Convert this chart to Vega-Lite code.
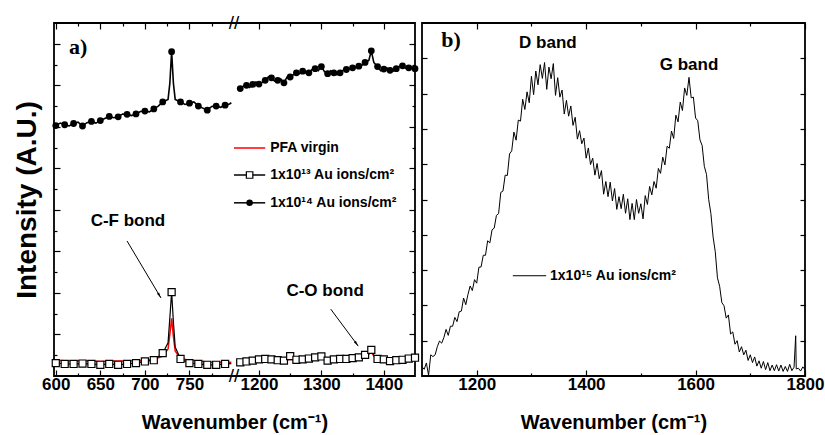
{
"$schema": "https://vega.github.io/schema/vega-lite/v6.json",
"padding": {"left": 12, "top": 13, "right": 4, "bottom": 0},
"spacing": -6,
"config": {
  "view": {"stroke": "#000", "strokeWidth": 1.8},
  "axis": {"domain": false, "grid": false, "tickColor": "#000", "tickWidth": 1.2, "labelColor": "#000", "labelFont": "Liberation Sans", "labelFontWeight": "bold", "labelFontSize": 17, "titleColor": "#000", "titleFont": "Liberation Sans", "titleFontWeight": "bold", "titleFontSize": 20, "labelOverlap": false, "labelFlush": false, "format": "d"}
},
"datasets": {
  "virgin": [
    {"g":"L","x":600,"y":0.38},{"g":"L","x":610,"y":0.37},{"g":"L","x":620,"y":0.36},{"g":"L","x":630,"y":0.37},{"g":"L","x":640,"y":0.36},{"g":"L","x":650,"y":0.35},{"g":"L","x":660,"y":0.36},{"g":"L","x":670,"y":0.36},{"g":"L","x":680,"y":0.36},{"g":"L","x":690,"y":0.37},{"g":"L","x":700,"y":0.38},{"g":"L","x":710,"y":0.40},{"g":"L","x":720,"y":0.48},{"g":"L","x":726,"y":0.65},{"g":"L","x":728,"y":1.0},{"g":"L","x":730,"y":1.39},{"g":"L","x":732,"y":0.95},{"g":"L","x":734,"y":0.6},{"g":"L","x":740,"y":0.42},{"g":"L","x":750,"y":0.38},{"g":"L","x":760,"y":0.36},{"g":"L","x":770,"y":0.34},{"g":"L","x":780,"y":0.33},{"g":"L","x":790,"y":0.33},{"g":"L","x":797,"y":0.33},
    {"g":"R","x":1170,"y":0.32},{"g":"R","x":1180,"y":0.33},{"g":"R","x":1190,"y":0.35},{"g":"R","x":1200,"y":0.37},{"g":"R","x":1210,"y":0.38},{"g":"R","x":1220,"y":0.38},{"g":"R","x":1230,"y":0.37},{"g":"R","x":1240,"y":0.37},{"g":"R","x":1250,"y":0.40},{"g":"R","x":1260,"y":0.39},{"g":"R","x":1270,"y":0.40},{"g":"R","x":1280,"y":0.41},{"g":"R","x":1290,"y":0.43},{"g":"R","x":1300,"y":0.44},{"g":"R","x":1310,"y":0.40},{"g":"R","x":1320,"y":0.40},{"g":"R","x":1330,"y":0.40},{"g":"R","x":1340,"y":0.41},{"g":"R","x":1350,"y":0.42},{"g":"R","x":1360,"y":0.44},{"g":"R","x":1370,"y":0.48},{"g":"R","x":1376,"y":0.52},{"g":"R","x":1380,"y":0.58},{"g":"R","x":1384,"y":0.48},{"g":"R","x":1390,"y":0.40},{"g":"R","x":1400,"y":0.38},{"g":"R","x":1410,"y":0.36},{"g":"R","x":1420,"y":0.37},{"g":"R","x":1430,"y":0.38},{"g":"R","x":1440,"y":0.40},{"g":"R","x":1450,"y":0.42}
  ],
  "e13": [
    {"g":"L","x":600,"y":0.31},{"g":"L","x":610,"y":0.29},{"g":"L","x":620,"y":0.29},{"g":"L","x":630,"y":0.30},{"g":"L","x":640,"y":0.29},{"g":"L","x":650,"y":0.27},{"g":"L","x":660,"y":0.29},{"g":"L","x":670,"y":0.27},{"g":"L","x":680,"y":0.29},{"g":"L","x":690,"y":0.31},{"g":"L","x":700,"y":0.35},{"g":"L","x":710,"y":0.38},{"g":"L","x":720,"y":0.55},{"g":"L","x":726,"y":0.8},{"g":"L","x":728,"y":1.4},{"g":"L","x":730,"y":2.02},{"g":"L","x":732,"y":1.3},{"g":"L","x":734,"y":0.7},{"g":"L","x":740,"y":0.41},{"g":"L","x":750,"y":0.31},{"g":"L","x":760,"y":0.29},{"g":"L","x":770,"y":0.27},{"g":"L","x":780,"y":0.27},{"g":"L","x":790,"y":0.29},{"g":"L","x":797,"y":0.30},
    {"g":"R","x":1170,"y":0.33},{"g":"R","x":1180,"y":0.35},{"g":"R","x":1190,"y":0.37},{"g":"R","x":1200,"y":0.40},{"g":"R","x":1210,"y":0.41},{"g":"R","x":1220,"y":0.40},{"g":"R","x":1230,"y":0.38},{"g":"R","x":1240,"y":0.37},{"g":"R","x":1250,"y":0.48},{"g":"R","x":1260,"y":0.39},{"g":"R","x":1270,"y":0.40},{"g":"R","x":1280,"y":0.42},{"g":"R","x":1290,"y":0.45},{"g":"R","x":1300,"y":0.47},{"g":"R","x":1310,"y":0.37},{"g":"R","x":1320,"y":0.40},{"g":"R","x":1330,"y":0.41},{"g":"R","x":1340,"y":0.41},{"g":"R","x":1350,"y":0.43},{"g":"R","x":1360,"y":0.45},{"g":"R","x":1370,"y":0.51},{"g":"R","x":1376,"y":0.55},{"g":"R","x":1380,"y":0.63},{"g":"R","x":1384,"y":0.50},{"g":"R","x":1390,"y":0.41},{"g":"R","x":1400,"y":0.40},{"g":"R","x":1410,"y":0.36},{"g":"R","x":1420,"y":0.38},{"g":"R","x":1430,"y":0.39},{"g":"R","x":1440,"y":0.42},{"g":"R","x":1450,"y":0.44}
  ],
  "e14": [
    {"g":"L","x":600,"y":6.03},{"g":"L","x":605,"y":6.09},{"g":"L","x":610,"y":6.05},{"g":"L","x":615,"y":6.02},{"g":"L","x":620,"y":6.08},{"g":"L","x":625,"y":6.11},{"g":"L","x":630,"y":6.02},{"g":"L","x":635,"y":6.10},{"g":"L","x":640,"y":6.13},{"g":"L","x":645,"y":6.09},{"g":"L","x":650,"y":6.15},{"g":"L","x":655,"y":6.20},{"g":"L","x":660,"y":6.25},{"g":"L","x":665,"y":6.22},{"g":"L","x":670,"y":6.24},{"g":"L","x":675,"y":6.31},{"g":"L","x":680,"y":6.30},{"g":"L","x":685,"y":6.27},{"g":"L","x":690,"y":6.31},{"g":"L","x":695,"y":6.37},{"g":"L","x":700,"y":6.38},{"g":"L","x":705,"y":6.36},{"g":"L","x":710,"y":6.43},{"g":"L","x":715,"y":6.50},{"g":"L","x":720,"y":6.60},{"g":"L","x":726,"y":6.66},{"g":"L","x":728,"y":7.05},{"g":"L","x":730,"y":7.81},{"g":"L","x":732,"y":7.05},{"g":"L","x":734,"y":6.66},{"g":"L","x":740,"y":6.60},{"g":"L","x":745,"y":6.54},{"g":"L","x":750,"y":6.57},{"g":"L","x":755,"y":6.60},{"g":"L","x":760,"y":6.50},{"g":"L","x":765,"y":6.45},{"g":"L","x":770,"y":6.40},{"g":"L","x":775,"y":6.49},{"g":"L","x":780,"y":6.50},{"g":"L","x":785,"y":6.47},{"g":"L","x":790,"y":6.52},{"g":"L","x":795,"y":6.55},{"g":"L","x":797,"y":6.58},
    {"g":"R","x":1170,"y":6.92},{"g":"R","x":1175,"y":6.98},{"g":"R","x":1180,"y":7.00},{"g":"R","x":1185,"y":6.95},{"g":"R","x":1190,"y":7.02},{"g":"R","x":1195,"y":7.08},{"g":"R","x":1200,"y":7.03},{"g":"R","x":1205,"y":7.07},{"g":"R","x":1210,"y":7.12},{"g":"R","x":1215,"y":7.20},{"g":"R","x":1220,"y":7.18},{"g":"R","x":1225,"y":7.10},{"g":"R","x":1230,"y":7.12},{"g":"R","x":1235,"y":7.15},{"g":"R","x":1240,"y":7.06},{"g":"R","x":1245,"y":7.20},{"g":"R","x":1250,"y":7.20},{"g":"R","x":1255,"y":7.25},{"g":"R","x":1260,"y":7.30},{"g":"R","x":1265,"y":7.28},{"g":"R","x":1270,"y":7.34},{"g":"R","x":1275,"y":7.30},{"g":"R","x":1280,"y":7.30},{"g":"R","x":1285,"y":7.38},{"g":"R","x":1290,"y":7.40},{"g":"R","x":1295,"y":7.35},{"g":"R","x":1300,"y":7.45},{"g":"R","x":1305,"y":7.33},{"g":"R","x":1310,"y":7.28},{"g":"R","x":1315,"y":7.35},{"g":"R","x":1320,"y":7.30},{"g":"R","x":1325,"y":7.25},{"g":"R","x":1330,"y":7.30},{"g":"R","x":1335,"y":7.36},{"g":"R","x":1340,"y":7.38},{"g":"R","x":1345,"y":7.40},{"g":"R","x":1350,"y":7.42},{"g":"R","x":1355,"y":7.44},{"g":"R","x":1360,"y":7.46},{"g":"R","x":1365,"y":7.48},{"g":"R","x":1370,"y":7.55},{"g":"R","x":1376,"y":7.60},{"g":"R","x":1380,"y":7.83},{"g":"R","x":1384,"y":7.55},{"g":"R","x":1390,"y":7.45},{"g":"R","x":1395,"y":7.35},{"g":"R","x":1400,"y":7.39},{"g":"R","x":1405,"y":7.42},{"g":"R","x":1410,"y":7.36},{"g":"R","x":1415,"y":7.34},{"g":"R","x":1420,"y":7.40},{"g":"R","x":1425,"y":7.45},{"g":"R","x":1430,"y":7.47},{"g":"R","x":1435,"y":7.41},{"g":"R","x":1440,"y":7.42},{"g":"R","x":1445,"y":7.44},{"g":"R","x":1450,"y":7.40}
  ],
  "legA": [
    {"s":"PFA virgin","x":1160,"x2":1210,"xm":1185,"xt":1218,"y":5.49},
    {"s":"1x10¹³ Au ions/cm²","x":1160,"x2":1210,"xm":1185,"xt":1218,"y":4.84},
    {"s":"1x10¹⁴ Au ions/cm²","x":1160,"x2":1210,"xm":1185,"xt":1218,"y":4.17}
  ],
  "annA": [
    {"t":"C-F bond","x":681,"y":3.73},
    {"t":"C-O bond","x":1306,"y":2.05}
  ],
  "arrA": [
    {"x":680,"y":3.25,"x2":718,"y2":1.88,"a":149},
    {"x":1315,"y":1.61,"x2":1359,"y2":0.72,"a":144}
  ],
  "labA": [{"t":"a)","x":625,"y":7.92}],
  "brk": [{"x":800,"y":0},{"x":800,"y":8.5}],
  "b": [
    {"x":1100,"y":0.26},{"x":1104,"y":0.19},{"x":1108,"y":0.37},{"x":1112,"y":0.02},{"x":1116,"y":0.60},{"x":1120,"y":0.55},{"x":1124,"y":0.60},{"x":1128,"y":0.83},{"x":1132,"y":0.99},{"x":1136,"y":0.93},{"x":1140,"y":1.09},{"x":1144,"y":1.32},{"x":1148,"y":1.15},{"x":1152,"y":1.41},{"x":1156,"y":1.41},{"x":1160,"y":1.66},{"x":1164,"y":1.54},{"x":1168,"y":1.82},{"x":1172,"y":1.84},{"x":1176,"y":2.21},{"x":1180,"y":2.02},{"x":1184,"y":2.31},{"x":1188,"y":2.55},{"x":1192,"y":2.42},{"x":1196,"y":2.73},{"x":1200,"y":2.63},{"x":1204,"y":3.08},{"x":1208,"y":3.09},{"x":1212,"y":3.42},{"x":1216,"y":3.42},{"x":1220,"y":3.83},{"x":1224,"y":3.77},{"x":1228,"y":4.14},{"x":1232,"y":4.19},{"x":1236,"y":4.55},{"x":1240,"y":4.60},{"x":1244,"y":5.20},{"x":1248,"y":5.24},{"x":1252,"y":5.69},{"x":1256,"y":5.68},{"x":1260,"y":6.29},{"x":1264,"y":6.38},{"x":1268,"y":6.91},{"x":1272,"y":6.68},{"x":1276,"y":7.25},{"x":1280,"y":7.22},{"x":1284,"y":7.84},{"x":1288,"y":7.55},{"x":1292,"y":8.05},{"x":1296,"y":7.74},{"x":1300,"y":8.49},{"x":1304,"y":7.97},{"x":1308,"y":8.64},{"x":1312,"y":8.25},{"x":1316,"y":8.82},{"x":1320,"y":8.43},{"x":1324,"y":8.88},{"x":1328,"y":8.12},{"x":1332,"y":8.75},{"x":1336,"y":8.42},{"x":1340,"y":8.85},{"x":1344,"y":7.95},{"x":1348,"y":8.45},{"x":1352,"y":7.90},{"x":1356,"y":8.10},{"x":1360,"y":7.42},{"x":1364,"y":7.81},{"x":1368,"y":7.36},{"x":1372,"y":7.65},{"x":1376,"y":7.10},{"x":1380,"y":7.33},{"x":1384,"y":6.71},{"x":1388,"y":6.95},{"x":1392,"y":6.58},{"x":1396,"y":6.74},{"x":1400,"y":6.17},{"x":1404,"y":6.46},{"x":1408,"y":5.99},{"x":1412,"y":6.17},{"x":1416,"y":5.69},{"x":1420,"y":6.02},{"x":1424,"y":5.59},{"x":1428,"y":5.82},{"x":1432,"y":5.15},{"x":1436,"y":5.51},{"x":1440,"y":5.08},{"x":1444,"y":5.49},{"x":1448,"y":4.96},{"x":1452,"y":5.31},{"x":1456,"y":4.72},{"x":1460,"y":5.08},{"x":1464,"y":4.74},{"x":1468,"y":5.15},{"x":1472,"y":4.61},{"x":1476,"y":5.02},{"x":1480,"y":4.43},{"x":1484,"y":4.89},{"x":1488,"y":4.43},{"x":1492,"y":5.00},{"x":1496,"y":4.61},{"x":1500,"y":4.88},{"x":1504,"y":4.45},{"x":1508,"y":5.11},{"x":1512,"y":4.86},{"x":1516,"y":5.37},{"x":1520,"y":5.13},{"x":1524,"y":5.51},{"x":1528,"y":5.32},{"x":1532,"y":5.88},{"x":1536,"y":5.74},{"x":1540,"y":6.20},{"x":1544,"y":5.98},{"x":1548,"y":6.51},{"x":1552,"y":6.45},{"x":1556,"y":6.94},{"x":1560,"y":6.73},{"x":1564,"y":7.39},{"x":1568,"y":7.20},{"x":1572,"y":7.76},{"x":1576,"y":7.52},{"x":1580,"y":8.16},{"x":1584,"y":7.95},{"x":1588,"y":8.46},{"x":1592,"y":7.88},{"x":1596,"y":7.90},{"x":1600,"y":7.31},{"x":1604,"y":7.23},{"x":1608,"y":6.69},{"x":1612,"y":6.53},{"x":1616,"y":5.94},{"x":1620,"y":5.71},{"x":1624,"y":5.00},{"x":1628,"y":4.60},{"x":1632,"y":3.94},{"x":1636,"y":3.52},{"x":1640,"y":2.78},{"x":1644,"y":2.54},{"x":1648,"y":2.08},{"x":1652,"y":1.99},{"x":1656,"y":1.64},{"x":1660,"y":1.73},{"x":1664,"y":1.19},{"x":1668,"y":1.25},{"x":1672,"y":0.90},{"x":1676,"y":1.00},{"x":1680,"y":0.68},{"x":1684,"y":0.83},{"x":1688,"y":0.60},{"x":1692,"y":0.73},{"x":1696,"y":0.44},{"x":1700,"y":0.60},{"x":1704,"y":0.38},{"x":1708,"y":0.54},{"x":1712,"y":0.28},{"x":1716,"y":0.43},{"x":1720,"y":0.22},{"x":1724,"y":0.41},{"x":1728,"y":0.18},{"x":1732,"y":0.38},{"x":1736,"y":0.15},{"x":1740,"y":0.31},{"x":1744,"y":0.15},{"x":1748,"y":0.32},{"x":1752,"y":0.14},{"x":1756,"y":0.31},{"x":1760,"y":0.13},{"x":1764,"y":0.27},{"x":1768,"y":0.13},{"x":1772,"y":0.33},{"x":1776,"y":0.15},{"x":1780,"y":0.25},{"x":1783,"y":1.14},{"x":1784,"y":0.20},{"x":1788,"y":0.22},{"x":1792,"y":0.14},{"x":1796,"y":0.26},{"x":1800,"y":0.18}
  ],
  "legB": [{"s":"1x10¹⁵ Au ions/cm²","x":1266,"x2":1327,"xt":1334,"y":2.84}],
  "annB": [{"t":"D band","x":1330,"y":9.43},{"t":"G band","x":1588,"y":8.81}],
  "labB": [{"t":"b)","x":1153,"y":9.52}]
},
"hconcat": [
 {
  "width": 361, "height": 353,
  "resolve": {"axis": {"x": "independent", "y": "independent"}},
  "layer": [
   {"data": {"name": "virgin"}, "mark": {"type": "line", "color": "#ff0000", "strokeWidth": 1.5},
    "encoding": {
     "x": {"field": "x", "type": "quantitative", "scale": {"domain": [598, 800, 1160, 1450], "range": [0, 180, 180, 361], "zero": false, "nice": false},
           "axis": {"orient": "bottom", "values": [600, 650, 700, 750, 1200, 1300, 1400], "ticks": false, "labelPadding": 0, "title": "Wavenumber (cm⁻¹)", "titlePadding": 20}},
     "y": {"field": "y", "type": "quantitative", "scale": {"domain": [0, 8.5], "zero": false, "nice": false},
           "axis": {"orient": "left", "values": [1, 2, 3, 4, 5, 6, 7, 8], "tickSize": -6, "labels": false, "title": "Intensity (A.U.)", "titleFontSize": 28, "titlePadding": 12}},
     "detail": {"field": "g"}}},
   {"data": {"name": "e13"}, "mark": {"type": "line", "color": "#000", "strokeWidth": 1.2},
    "encoding": {
     "x": {"field": "x", "type": "quantitative", "scale": {"domain": [598, 800, 1160, 1450], "range": [0, 180, 180, 361], "zero": false, "nice": false},
           "axis": {"orient": "bottom", "values": [600, 650, 700, 750, 1200, 1300, 1400], "labels": false, "tickSize": -6, "title": null}},
     "y": {"field": "y", "type": "quantitative", "scale": {"domain": [0, 8.5], "zero": false, "nice": false},
           "axis": {"orient": "left", "values": [0.5, 1.5, 2.5, 3.5, 4.5, 5.5, 6.5, 7.5], "tickSize": -3, "labels": false, "title": null}},
     "detail": {"field": "g"}}},
   {"data": {"name": "e13"}, "transform": [{"filter": "datum.x % 10 == 0"}],
    "mark": {"type": "point", "shape": "square", "filled": true, "fill": "#fff", "stroke": "#000", "strokeWidth": 1.2, "size": 50, "opacity": 1},
    "encoding": {
     "x": {"field": "x", "type": "quantitative", "scale": {"domain": [598, 800, 1160, 1450], "range": [0, 180, 180, 361], "zero": false, "nice": false},
           "axis": {"orient": "bottom", "values": [625, 675, 725, 775, 1250, 1350], "labels": false, "tickSize": -3, "title": null}},
     "y": {"field": "y", "type": "quantitative", "scale": {"domain": [0, 8.5], "zero": false, "nice": false},
           "axis": {"orient": "right", "values": [1, 2, 3, 4, 5, 6, 7, 8], "tickSize": -6, "labels": false, "title": null}}}},
   {"data": {"name": "e14"}, "mark": {"type": "line", "color": "#000", "strokeWidth": 1.6},
    "encoding": {
     "x": {"field": "x", "type": "quantitative", "scale": {"domain": [598, 800, 1160, 1450], "range": [0, 180, 180, 361], "zero": false, "nice": false},
           "axis": {"orient": "top", "values": [600, 650, 700, 750, 1200, 1300, 1400], "labels": false, "tickSize": -6, "title": null}},
     "y": {"field": "y", "type": "quantitative", "scale": {"domain": [0, 8.5], "zero": false, "nice": false},
           "axis": {"orient": "right", "values": [0.5, 1.5, 2.5, 3.5, 4.5, 5.5, 6.5, 7.5], "tickSize": -3, "labels": false, "title": null}},
     "detail": {"field": "g"}}},
   {"data": {"name": "e14"}, "transform": [{"filter": "datum.x % 10 == 0"}],
    "mark": {"type": "point", "shape": "circle", "filled": true, "color": "#000", "size": 46, "opacity": 1},
    "encoding": {
     "x": {"field": "x", "type": "quantitative", "scale": {"domain": [598, 800, 1160, 1450], "range": [0, 180, 180, 361], "zero": false, "nice": false},
           "axis": {"orient": "top", "values": [625, 675, 725, 775, 1250, 1350], "labels": false, "tickSize": -3, "title": null}},
     "y": {"field": "y", "type": "quantitative", "axis": null}}},
   {"data": {"name": "legA"}, "mark": {"type": "rule", "strokeWidth": 1.5},
    "encoding": {
     "x": {"field": "x", "type": "quantitative", "axis": null},
     "x2": {"field": "x2"},
     "y": {"field": "y", "type": "quantitative", "axis": null},
     "color": {"field": "s", "type": "nominal", "legend": null, "scale": {"domain": ["PFA virgin", "1x10¹³ Au ions/cm²", "1x10¹⁴ Au ions/cm²"], "range": ["#ff0000", "#000000", "#000000"]}}}},
   {"data": {"name": "legA"}, "transform": [{"filter": "datum.s == '1x10¹³ Au ions/cm²'"}],
    "mark": {"type": "point", "shape": "square", "filled": true, "fill": "#fff", "stroke": "#000", "strokeWidth": 1.2, "size": 42, "opacity": 1},
    "encoding": {"x": {"field": "xm", "type": "quantitative", "axis": null}, "y": {"field": "y", "type": "quantitative", "axis": null}}},
   {"data": {"name": "legA"}, "transform": [{"filter": "datum.s == '1x10¹⁴ Au ions/cm²'"}],
    "mark": {"type": "point", "shape": "circle", "filled": true, "color": "#000", "size": 42, "opacity": 1},
    "encoding": {"x": {"field": "xm", "type": "quantitative", "axis": null}, "y": {"field": "y", "type": "quantitative", "axis": null}}},
   {"data": {"name": "legA"},
    "mark": {"type": "text", "align": "left", "baseline": "middle", "font": "Liberation Sans", "fontWeight": "bold", "fontSize": 14, "color": "#000"},
    "encoding": {"x": {"field": "xt", "type": "quantitative", "axis": null}, "y": {"field": "y", "type": "quantitative", "axis": null}, "text": {"field": "s"}}},
   {"data": {"name": "annA"},
    "mark": {"type": "text", "align": "center", "baseline": "middle", "font": "Liberation Sans", "fontWeight": "bold", "fontSize": 17, "color": "#000"},
    "encoding": {"x": {"field": "x", "type": "quantitative", "axis": null}, "y": {"field": "y", "type": "quantitative", "axis": null}, "text": {"field": "t"}}},
   {"data": {"name": "arrA"}, "mark": {"type": "rule", "color": "#000", "strokeWidth": 1},
    "encoding": {"x": {"field": "x", "type": "quantitative", "axis": null}, "x2": {"field": "x2"}, "y": {"field": "y", "type": "quantitative", "axis": null}, "y2": {"field": "y2"}}},
   {"data": {"name": "arrA"}, "mark": {"type": "point", "shape": "M0,0L0.4,1.8L-0.4,1.8Z", "filled": true, "color": "#000", "size": 40, "opacity": 1},
    "encoding": {"x": {"field": "x2", "type": "quantitative", "axis": null}, "y": {"field": "y2", "type": "quantitative", "axis": null}, "angle": {"field": "a", "type": "quantitative", "scale": null}}},
   {"data": {"name": "labA"},
    "mark": {"type": "text", "align": "center", "baseline": "middle", "font": "Liberation Serif", "fontWeight": "bold", "fontSize": 22, "color": "#000"},
    "encoding": {"x": {"field": "x", "type": "quantitative", "axis": null}, "y": {"field": "y", "type": "quantitative", "axis": null}, "text": {"field": "t"}}},
   {"data": {"name": "brk"},
    "mark": {"type": "text", "text": "//", "align": "center", "baseline": "middle", "font": "Liberation Sans", "fontSize": 19, "color": "#000"},
    "encoding": {"x": {"field": "x", "type": "quantitative", "axis": null}, "y": {"field": "y", "type": "quantitative", "axis": null}}}
  ]
 },
 {
  "width": 383, "height": 353,
  "resolve": {"axis": {"x": "independent", "y": "independent"}},
  "layer": [
   {"data": {"name": "b"}, "mark": {"type": "line", "color": "#000", "strokeWidth": 1},
    "encoding": {
     "x": {"field": "x", "type": "quantitative", "scale": {"domain": [1100, 1800], "zero": false, "nice": false},
           "axis": {"orient": "bottom", "values": [1200, 1400, 1600, 1800], "ticks": false, "labelPadding": 0, "title": "Wavenumber (cm⁻¹)", "titlePadding": 20}},
     "y": {"field": "y", "type": "quantitative", "scale": {"domain": [0, 10], "zero": false, "nice": false},
           "axis": {"orient": "left", "values": [1, 2, 3, 4, 5, 6, 7, 8, 9], "tickSize": -5, "labels": false, "title": null}}}},
   {"data": {"name": "legB"}, "mark": {"type": "rule", "color": "#000", "strokeWidth": 1},
    "encoding": {
     "x": {"field": "x", "type": "quantitative", "scale": {"domain": [1100, 1800], "zero": false, "nice": false},
           "axis": {"orient": "bottom", "values": [1200, 1400, 1600, 1800], "labels": false, "tickSize": -6, "title": null}},
     "x2": {"field": "x2"},
     "y": {"field": "y", "type": "quantitative", "scale": {"domain": [0, 10], "zero": false, "nice": false},
           "axis": {"orient": "right", "values": [1, 2, 3, 4, 5, 6, 7, 8, 9], "tickSize": -5, "labels": false, "title": null}}}},
   {"data": {"name": "legB"},
    "mark": {"type": "text", "align": "left", "baseline": "middle", "font": "Liberation Sans", "fontWeight": "bold", "fontSize": 14, "color": "#000"},
    "encoding": {
     "x": {"field": "xt", "type": "quantitative", "axis": {"orient": "bottom", "values": [1300, 1500, 1700], "labels": false, "tickSize": -3, "title": null}},
     "y": {"field": "y", "type": "quantitative", "axis": null},
     "text": {"field": "s"}}},
   {"data": {"name": "annB"},
    "mark": {"type": "text", "align": "center", "baseline": "middle", "font": "Liberation Sans", "fontWeight": "bold", "fontSize": 17, "color": "#000"},
    "encoding": {
     "x": {"field": "x", "type": "quantitative", "axis": {"orient": "top", "values": [1200, 1400, 1600, 1800], "labels": false, "tickSize": -6, "title": null}},
     "y": {"field": "y", "type": "quantitative", "axis": null},
     "text": {"field": "t"}}},
   {"data": {"name": "labB"},
    "mark": {"type": "text", "align": "center", "baseline": "middle", "font": "Liberation Serif", "fontWeight": "bold", "fontSize": 22, "color": "#000"},
    "encoding": {
     "x": {"field": "x", "type": "quantitative", "axis": {"orient": "top", "values": [1300, 1500, 1700], "labels": false, "tickSize": -3, "title": null}},
     "y": {"field": "y", "type": "quantitative", "axis": null},
     "text": {"field": "t"}}}
  ]
 }
]
}
